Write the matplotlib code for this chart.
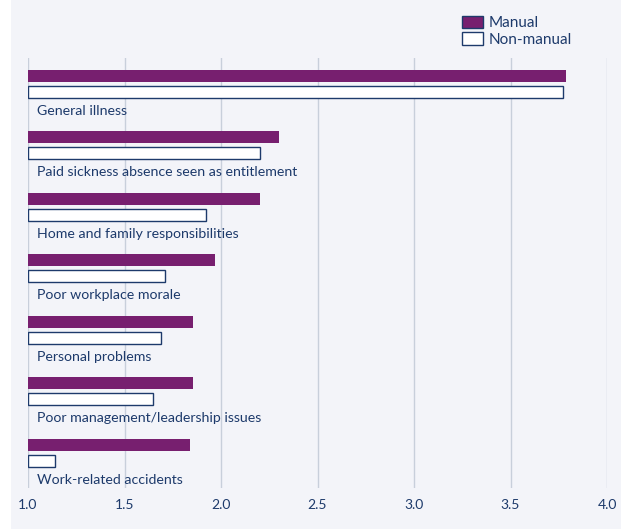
import numpy as np
import matplotlib.pyplot as plt
from matplotlib.patches import Patch, Rectangle

categories = [
    'General illness',
    'Paid sickness absence seen as entitlement',
    'Home and family responsibilities',
    'Poor workplace morale',
    'Personal problems',
    'Poor management/leadership issues',
    'Work-related accidents',
]
manual = [3.79, 2.30, 2.20, 1.97, 1.855, 1.855, 1.84]
non_manual = [3.77, 2.20, 1.92, 1.71, 1.69, 1.65, 1.14]
ticks = [1.0, 1.5, 2.0, 2.5, 3.0, 3.5, 4.0]

purple = '#771f6f'
navy = '#1d3a6b'
bg = '#f3f4f9'
grid_col = '#c8cfdb'

plt.rcParams['font.family'] = ['Lato', 'DejaVu Sans']

fig = plt.figure(figsize=(6.21, 5.30), dpi=100)
fig.patch.set_facecolor('white')
fig.patches.append(Rectangle((11 / 621, 1 / 530), 1, 1, transform=fig.transFigure,
                             facecolor=bg, edgecolor='none', zorder=-10))

W, H = 621, 530
ax = fig.add_axes([28 / W, 1 - 488 / H, (607 - 28) / W, (488 - 58) / H])
ax.set_facecolor('none')

y = np.arange(len(categories))
h = 12 / 61.5
off = 16 / 61.5
ax.barh(y + 0.01, np.array(manual) - 1, left=1, height=h, color=purple, zorder=3)
ax.barh(y + off + 0.01, np.array(non_manual) - 1, left=1, height=h, color='white',
        edgecolor=navy, linewidth=1, zorder=3)

for yi, name in zip(y, categories):
    ax.text(1.045, yi + 0.585, name, color=navy, fontsize=10.2, va='center', ha='left')

ax.set_xlim(1.0, 4.0)
ax.set_ylim(6.715, -0.276)
ax.set_xticks(ticks)
ax.set_xticklabels([f'{t:.1f}' for t in ticks], color=navy, fontsize=10)
ax.set_yticks([])
ax.tick_params(axis='x', length=0, pad=8)
ax.grid(axis='x', color=grid_col, linewidth=1, zorder=0)
for s in ax.spines.values():
    s.set_visible(False)

handles = [Patch(facecolor=purple, edgecolor=navy, linewidth=1, label='Manual'),
           Patch(facecolor='white', edgecolor=navy, linewidth=1, label='Non-manual')]
fig.legend(handles=handles, loc='upper left', bbox_to_anchor=(448 / W, 1 - 2 / H),
           frameon=False, fontsize=11, labelcolor=navy, handlelength=1.4,
           handleheight=0.85, handletextpad=0.35, labelspacing=0.15)

fig.savefig('out.png', dpi=100)
